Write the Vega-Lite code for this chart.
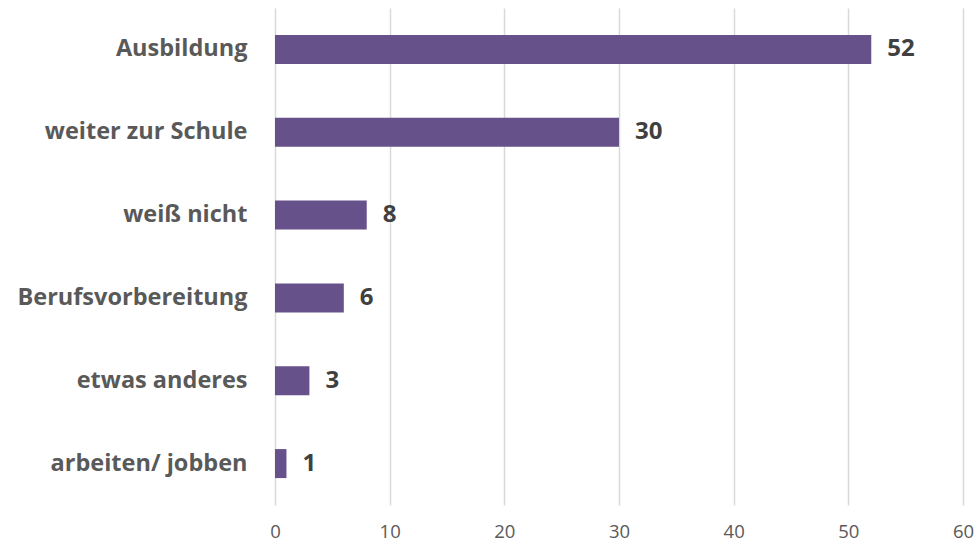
{
  "$schema": "https://vega.github.io/schema/vega-lite/v6.json",
  "width": 688,
  "height": 497,
  "autosize": {"type": "none"},
  "padding": {"left": 275, "top": 8, "right": 15, "bottom": 40},
  "background": "white",
  "data": {"values": [
    {"cat": "Ausbildung", "v": 52},
    {"cat": "weiter zur Schule", "v": 30},
    {"cat": "weiß nicht", "v": 8},
    {"cat": "Berufsvorbereitung", "v": 6},
    {"cat": "etwas anderes", "v": 3},
    {"cat": "arbeiten/ jobben", "v": 1}
  ]},
  "config": {
    "view": {"stroke": null},
    "font": "Open Sans"
  },
  "encoding": {
    "y": {"field": "cat", "type": "nominal", "sort": null,
      "scale": {"paddingInner": 0.65, "paddingOuter": 0.325},
      "axis": {"title": null, "domain": false, "ticks": false, "labelPadding": 28, "labelLimit": 400,
        "labelFontSize": 23.5, "labelFontWeight": "bold", "labelColor": "#595959", "labelFont": "Open Sans"}},
    "x": {"field": "v", "type": "quantitative",
      "scale": {"domain": [0, 60], "nice": false},
      "axis": {"title": null, "domain": false, "ticks": false, "values": [0,10,20,30,40,50,60],
        "gridColor": "#d9d9d9", "gridWidth": 1.5, "labelPadding": 17, "labelFontSize": 18.5,
        "labelColor": "#595959", "labelFont": "Open Sans", "labelFlush": false}}
  },
  "layer": [
    {"mark": {"type": "bar", "color": "#66518a"}},
    {"mark": {"type": "text", "align": "left", "dx": 16, "fontSize": 24, "fontWeight": "bold", "color": "#404040", "font": "Open Sans"},
     "encoding": {"text": {"field": "v", "type": "quantitative"}}}
  ]
}
